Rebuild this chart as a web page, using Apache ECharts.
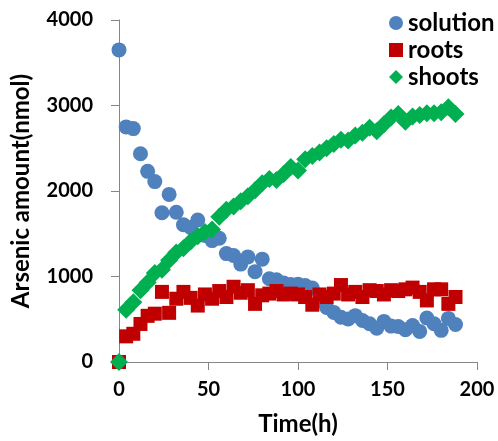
<!DOCTYPE html>
<html>
<head>
    <meta charset="utf-8">
    <title>arsenic amount</title>
    <style>
        html,body,#main{
            height: 100%;
            width: 100%;
            padding: 0;
            margin: 0;
            background: #fff;
        }
    </style>
</head>
<body>
    <div id="main"></div>
    <script src="https://cdn.jsdelivr.net/npm/echarts@6/dist/echarts.min.js"></script>
    <script>
        // sampling times (h)
        var hours = [0, 4, 8, 12, 16, 20, 24, 28, 32, 36, 40, 44, 48, 52, 56, 60, 64, 68, 72, 76,
            80, 84, 88, 92, 96, 100, 104, 108, 112, 116, 120, 124, 128, 132, 136, 140, 144, 148,
            152, 156, 160, 164, 168, 172, 176, 180, 184, 188];

        // arsenic amount (nmol)
        var solution = [3650, 2750, 2730, 2435, 2230, 2110, 1745, 1960, 1752, 1605, 1573, 1660, 1480, 1420,
            1447, 1268, 1245, 1145, 1229, 1057, 1203, 974, 962, 924, 905, 910, 895, 866, 720, 638,
            580, 523, 504, 542, 485, 447, 395, 475, 420, 415, 378, 427, 358, 515, 447, 370, 510, 439];
        var roots = [0, 300, 330, 445, 540, 565, 820, 575, 740, 820, 750, 660, 790, 740, 830, 760, 880, 810,
            840, 680, 780, 800, 830, 790, 800, 790, 760, 670, 790, 760, 800, 900, 790, 820, 760, 840,
            830, 790, 840, 830, 850, 870, 820, 720, 850, 850, 680, 760];
        var shoots = [0, 610, 700, 840, 930, 1040, 1080, 1190, 1280, 1330, 1410, 1470, 1520, 1550, 1700,
            1780, 1820, 1880, 1940, 2010, 2090, 2140, 2130, 2200, 2280, 2240, 2370, 2410, 2450, 2500,
            2550, 2600, 2590, 2650, 2680, 2740, 2700, 2780, 2860, 2900, 2810, 2870, 2890, 2910, 2910,
            2920, 2980, 2900];

        function pairs(vals){
            return hours.map(function(h, i){ return [h, vals[i]] })
        }

        var font = 'Lato';
        var axisColor = '#868686';

        var chart = echarts.init(document.getElementById('main'));
        chart.setOption({
            animation: false,
            grid: { left: 119, right: 21, top: 20, bottom: 72 },
            legend: {
                orient: 'vertical',
                left: 384,
                top: 6,
                itemWidth: 14,
                itemHeight: 14,
                itemGap: 3,
                textStyle: { fontFamily: font, fontWeight: 'bold', fontSize: 24, color: '#000', lineHeight: 24 },
                data: [
                    { name: 'solution', icon: 'circle' },
                    { name: 'roots', icon: 'rect' },
                    { name: 'shoots', icon: 'diamond' }
                ]
            },
            xAxis: {
                type: 'value',
                min: 0, max: 200, interval: 50,
                name: 'Time(h)',
                nameLocation: 'middle',
                nameGap: 50,
                nameTextStyle: { fontFamily: font, fontWeight: 'bold', fontSize: 24, color: '#000' },
                axisLine: { lineStyle: { color: axisColor } },
                axisTick: { length: 8, lineStyle: { color: axisColor } },
                axisLabel: { margin: 18, fontFamily: font, fontWeight: 'bold', fontSize: 20, color: '#000' },
                splitLine: { show: false }
            },
            yAxis: {
                type: 'value',
                min: 0, max: 4000, interval: 1000,
                name: 'Arsenic amount(nmol)',
                nameLocation: 'middle',
                nameGap: 86,
                nameTextStyle: { fontFamily: font, fontWeight: 'bold', fontSize: 24, color: '#000' },
                axisLine: { show: true, lineStyle: { color: axisColor } },
                axisTick: { show: true, length: 8, lineStyle: { color: axisColor } },
                axisLabel: {
                    margin: 26, fontFamily: font, fontWeight: 'bold', fontSize: 20, color: '#000',
                    formatter: function(v){ return String(v) }
                },
                splitLine: { show: false }
            },
            series: [
                {
                    name: 'solution', type: 'scatter', symbol: 'circle', symbolSize: 15,
                    itemStyle: { color: '#4F81BD', opacity: 1 },
                    data: pairs(solution)
                },
                {
                    name: 'roots', type: 'scatter', symbol: 'rect', symbolSize: 14,
                    itemStyle: { color: '#C00000', opacity: 1 },
                    data: pairs(roots)
                },
                {
                    name: 'shoots', type: 'scatter', symbol: 'diamond', symbolSize: 18,
                    itemStyle: { color: '#00B050', opacity: 1 },
                    data: pairs(shoots)
                }
            ]
        });
    </script>
</body>
</html>
